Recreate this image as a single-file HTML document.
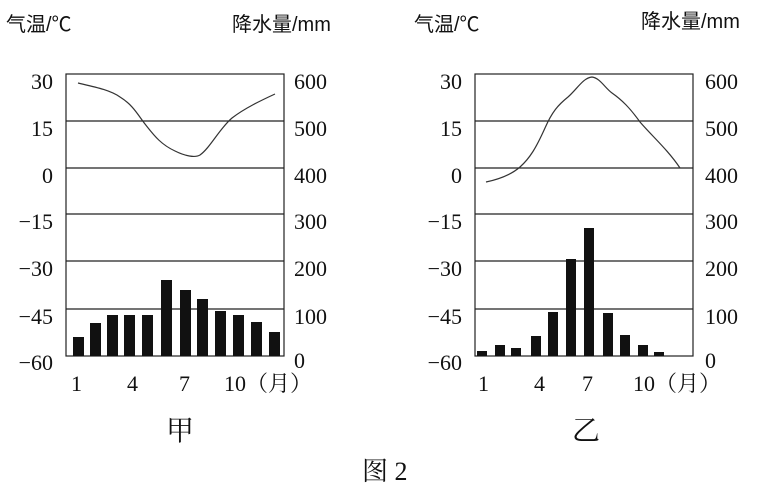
<!DOCTYPE html>
<html><head><meta charset="utf-8"><style>
body{margin:0;background:#fff;}
svg text{font-family:"Liberation Serif","Noto Serif CJK SC",serif;fill:#111;}
.c{font-family:"Liberation Sans","Noto Sans CJK SC",sans-serif;}
</style></head><body>
<svg width="777" height="490" viewBox="0 0 777 490" xmlns="http://www.w3.org/2000/svg">
<rect width="777" height="490" fill="#fff"/>
<g>
<text x="6" y="31" class="c" font-size="20">气温/℃</text>
<text x="232" y="31" class="c" font-size="20">降水量/mm</text>
<text x="414" y="31" class="c" font-size="20">气温/℃</text>
<text x="641" y="28" class="c" font-size="20">降水量/mm</text>
</g>
<g stroke="#222" stroke-width="1.2" fill="none">
<rect x="66" y="74" width="218" height="282"/>
<line x1="66" y1="121" x2="284" y2="121"/><line x1="66" y1="168" x2="284" y2="168"/>
<line x1="66" y1="214" x2="284" y2="214"/><line x1="66" y1="261" x2="284" y2="261"/>
<line x1="66" y1="309" x2="284" y2="309"/>
<rect x="475" y="74" width="218" height="282"/>
<line x1="475" y1="121" x2="693" y2="121"/><line x1="475" y1="168" x2="693" y2="168"/>
<line x1="475" y1="214" x2="693" y2="214"/><line x1="475" y1="261" x2="693" y2="261"/>
<line x1="475" y1="309" x2="693" y2="309"/>
</g>
<g fill="#111">
<rect x="73" y="337" width="11" height="19"/><rect x="90" y="323" width="11" height="33"/>
<rect x="107" y="315" width="11" height="41"/><rect x="124" y="315" width="11" height="41"/>
<rect x="142" y="315" width="11" height="41"/><rect x="161" y="280" width="11" height="76"/>
<rect x="180" y="290" width="11" height="66"/><rect x="197" y="299" width="11" height="57"/>
<rect x="215" y="311" width="11" height="45"/><rect x="233" y="315" width="11" height="41"/>
<rect x="251" y="322" width="11" height="34"/><rect x="269" y="332" width="11" height="24"/>
<rect x="477" y="351" width="10" height="5"/><rect x="495" y="345" width="10" height="11"/>
<rect x="511" y="348" width="10" height="8"/><rect x="531" y="336" width="10" height="20"/>
<rect x="548" y="312" width="10" height="44"/><rect x="566" y="259" width="10" height="97"/>
<rect x="584" y="228" width="10" height="128"/><rect x="603" y="313" width="10" height="43"/>
<rect x="620" y="335" width="10" height="21"/><rect x="638" y="345" width="10" height="11"/>
<rect x="654" y="352" width="10" height="4"/>
</g>
<g stroke="#333" stroke-width="1.2" fill="none">
<path d="M78,83 C95,87 110,90 120,97 C133,105 138,115 145,124 C155,137 162,145 175,151 C185,156 195,158 200,155 C210,148 220,128 232,118 C245,108 262,100 275,94"/>
<path d="M486,182 C500,179 512,174 520,167 C530,158 536,148 545,128 C552,112 558,105 568,97 C578,88 583,78 592,77 C600,78 605,88 612,93 C622,100 630,108 640,122 C652,136 668,150 680,168"/>
</g>
<g font-size="22" text-anchor="end">
<text x="53" y="89">30</text><text x="53" y="136">15</text><text x="53" y="183">0</text>
<text x="53" y="229">−15</text><text x="53" y="276">−30</text><text x="53" y="324">−45</text><text x="53" y="370">−60</text>
<text x="462" y="89">30</text><text x="462" y="136">15</text><text x="462" y="183">0</text>
<text x="462" y="229">−15</text><text x="462" y="276">−30</text><text x="462" y="324">−45</text><text x="462" y="370">−60</text>
</g>
<g font-size="22">
<text x="294" y="89">600</text><text x="294" y="136">500</text><text x="294" y="183">400</text>
<text x="294" y="229">300</text><text x="294" y="276">200</text><text x="294" y="324">100</text><text x="294" y="368">0</text>
<text x="705" y="89">600</text><text x="705" y="136">500</text><text x="705" y="183">400</text>
<text x="705" y="229">300</text><text x="705" y="276">200</text><text x="705" y="324">100</text><text x="705" y="368">0</text>
<text x="71" y="391">1</text><text x="127" y="391">4</text><text x="179" y="391">7</text><text x="224" y="391">10（月）</text>
<text x="478" y="391">1</text><text x="534" y="391">4</text><text x="582" y="391">7</text><text x="633" y="391">10（月）</text>
</g>
<text x="166" y="440" font-size="28">甲</text>
<text x="572" y="440" font-size="28">乙</text>
<text x="362" y="480" font-size="26">图 2</text>
</svg>
</body></html>
